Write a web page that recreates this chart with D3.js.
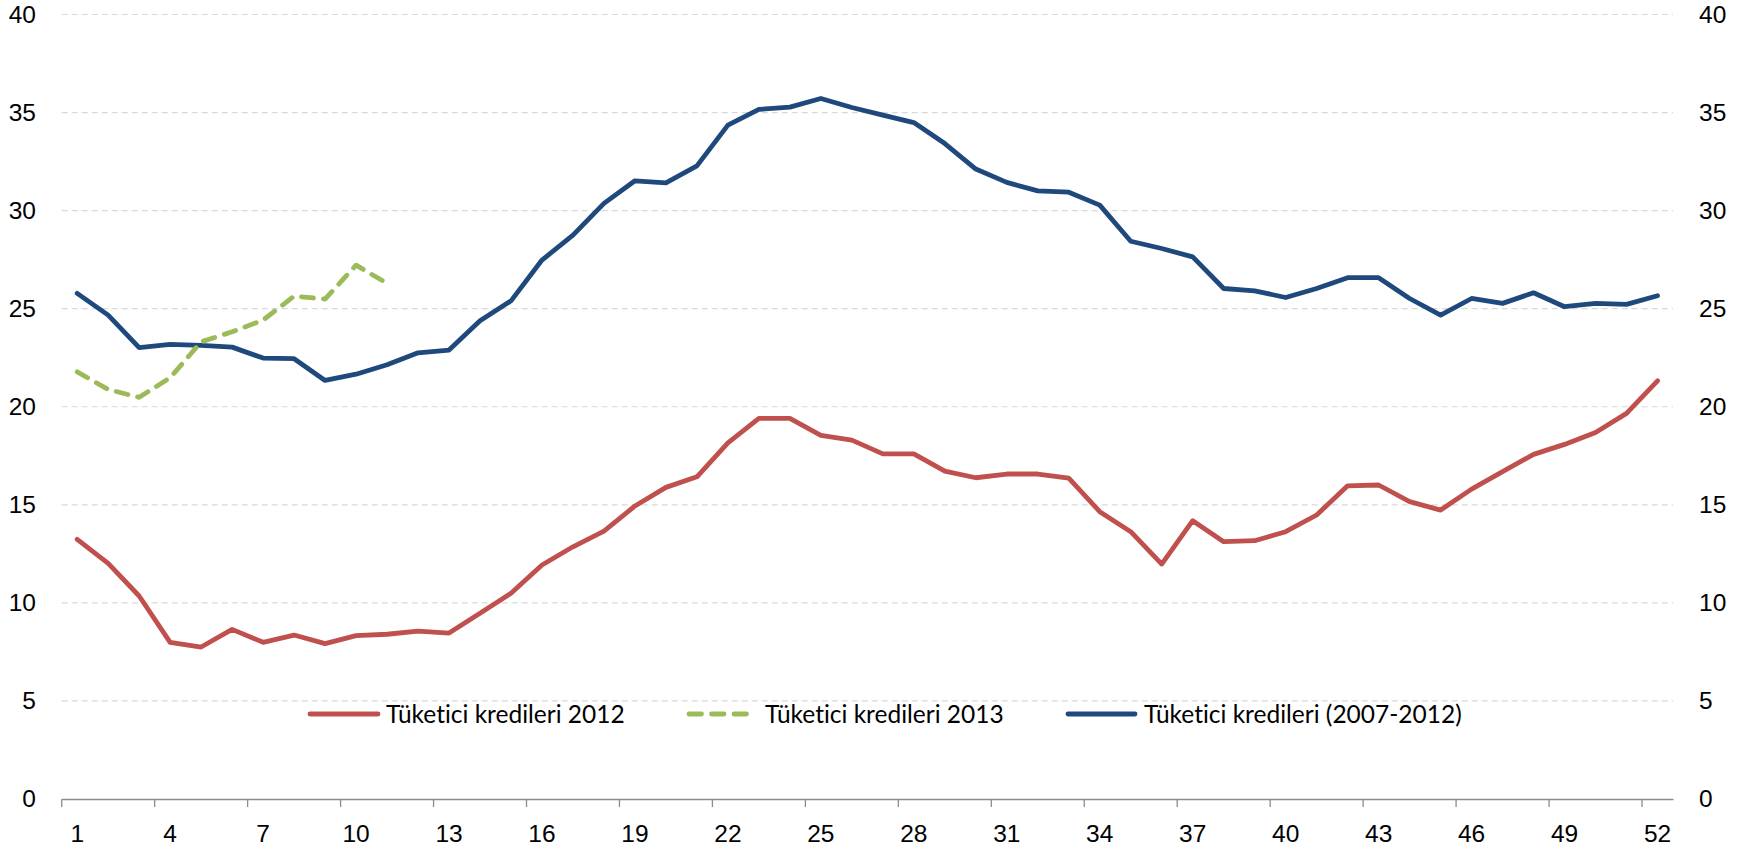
<!DOCTYPE html>
<html>
<head>
<meta charset="utf-8">
<script src="https://cdn.jsdelivr.net/npm/d3@7"></script>
<style>
  html, body { margin: 0; padding: 0; background: #fff; }
  svg { display: block; font-family: Lato, "Open Sans", sans-serif; font-variant-ligatures: none; }
</style>
</head>
<body>
<svg id="chart" width="1744" height="849"></svg>
<script>
// Weeks of the year
const weeks = d3.range(1, 53);

// Tick labels on the week axis (every third week)
const weekTicks = [1, 4, 7, 10, 13, 16, 19, 22, 25, 28, 31, 34, 37, 40, 43, 46, 49, 52];

// Value axis ticks
const valueTicks = [0, 5, 10, 15, 20, 25, 30, 35, 40];

// Series names
const seriesNames = ["Tüketici kredileri 2012", "Tüketici kredileri 2013", "Tüketici kredileri (2007-2012)"];

// Tüketici kredileri 2012 (weekly, %)
const credit2012 = [
  13.24, 12.01, 10.35, 7.99, 7.75, 8.65, 7.99, 8.36, 7.92, 8.33,
  8.40, 8.56, 8.46, 9.47, 10.49, 11.93, 12.86, 13.66, 14.94, 15.89,
  16.43, 18.16, 19.41, 19.41, 18.54, 18.30, 17.60, 17.60, 16.72, 16.38,
  16.57, 16.57, 16.36, 14.65, 13.63, 11.98, 14.19, 13.12, 13.17, 13.63,
  14.48, 15.97, 16.01, 15.16, 14.73, 15.80, 16.69, 17.57, 18.08, 18.69,
  19.66, 21.32
];

// Tüketici kredileri 2013 (weeks available so far)
const credit2013 = [21.78, 20.88, 20.48, 21.48, 23.31, 23.82, 24.42, 25.64, 25.49, 27.22, 26.29];

// Tüketici kredileri, 2007-2012 average (weekly, %)
const credit0712 = [
  25.78, 24.67, 23.01, 23.18, 23.13, 23.04, 22.48, 22.45, 21.34, 21.66,
  22.14, 22.75, 22.89, 24.38, 25.40, 27.48, 28.75, 30.37, 31.52, 31.42,
  32.28, 34.36, 35.16, 35.28, 35.72, 35.26, 34.87, 34.49, 33.42, 32.12,
  31.44, 31.01, 30.94, 30.28, 28.44, 28.07, 27.64, 26.03, 25.91, 25.57,
  26.03, 26.58, 26.58, 25.52, 24.67, 25.52, 25.27, 25.81, 25.10, 25.27,
  25.22, 25.66
];

const colors = ["#C0504D", "#9BBB59", "#1F497D"];
const fontSize = "24.5px";

const svg = d3.select("#chart");
const plotLeft = 61.7, plotRight = 1673, plotTop = 14.5, plotBottom = 799;

const x = d3.scaleBand().domain(weeks).range([plotLeft, plotRight]).paddingInner(0).paddingOuter(0);
const y = d3.scaleLinear().domain([0, 40]).range([plotBottom, plotTop]);
const bw = x.bandwidth();

// Dashed horizontal gridlines
svg.append("g")
  .selectAll("line")
  .data(valueTicks.filter(v => v > 0))
  .join("line")
  .attr("x1", plotLeft).attr("x2", plotRight)
  .attr("y1", d => y(d)).attr("y2", d => y(d))
  .attr("stroke", "#D9D9D9")
  .attr("stroke-width", 1.2)
  .attr("stroke-dasharray", "6,4");

// Week axis: ticks sit on category boundaries
const xAxis = svg.append("g")
  .attr("transform", `translate(0,${plotBottom})`)
  .call(d3.axisBottom(x).tickValues(weekTicks).tickSizeInner(8).tickSizeOuter(0));
xAxis.select(".domain").attr("stroke", "#8C8C8C").attr("stroke-width", 1.3);
xAxis.selectAll(".tick line")
  .attr("x1", -bw / 2).attr("x2", -bw / 2)
  .attr("stroke", "#8C8C8C").attr("stroke-width", 1.3);
xAxis.selectAll(".tick text")
  .attr("y", 25.5).attr("dy", "0.71em")
  .attr("fill", "#000").style("font-size", fontSize);

// Value axes on both sides
const yLeft = svg.append("g")
  .attr("transform", "translate(36,0)")
  .call(d3.axisLeft(y).tickValues(valueTicks).tickSize(0).tickPadding(0));
const yRight = svg.append("g")
  .attr("transform", "translate(1699,0)")
  .call(d3.axisRight(y).tickValues(valueTicks).tickSize(0).tickPadding(0));
[yLeft, yRight].forEach(g => {
  g.select(".domain").remove();
  g.selectAll("text").attr("fill", "#000").style("font-size", fontSize);
});

// Series lines
const line = d3.line()
  .x((d, i) => x(weeks[i]) + bw / 2)
  .y(d => y(d));

const series = [
  { values: credit0712, color: colors[2], dash: null },
  { values: credit2012, color: colors[0], dash: null },
  { values: credit2013, color: colors[1], dash: "12,10" }
];

svg.append("g")
  .selectAll("path")
  .data(series)
  .join("path")
  .attr("d", d => line(d.values))
  .attr("fill", "none")
  .attr("stroke", d => d.color)
  .attr("stroke-width", 4.8)
  .attr("stroke-linejoin", "round")
  .attr("stroke-linecap", "round")
  .attr("stroke-dasharray", d => d.dash);

// Legend
const legendItems = [
  { name: seriesNames[0], color: colors[0], dash: null, x0: 310, x1: 378, tx: 386 },
  { name: seriesNames[1], color: colors[1], dash: "12.5,10", x0: 689, x1: 747, tx: 765 },
  { name: seriesNames[2], color: colors[2], dash: null, x0: 1068, x1: 1135, tx: 1144 }
];
const legend = svg.append("g");
legend.selectAll("line")
  .data(legendItems)
  .join("line")
  .attr("x1", d => d.x0).attr("x2", d => d.x1)
  .attr("y1", 714).attr("y2", 714)
  .attr("stroke", d => d.color)
  .attr("stroke-width", 4.8)
  .attr("stroke-linecap", "round")
  .attr("stroke-dasharray", d => d.dash);
legend.selectAll("text")
  .data(legendItems)
  .join("text")
  .attr("x", d => d.tx)
  .attr("y", 722.5)
  .attr("fill", "#000")
  .style("font-size", fontSize)
  .text(d => d.name);
</script>
</body>
</html>
